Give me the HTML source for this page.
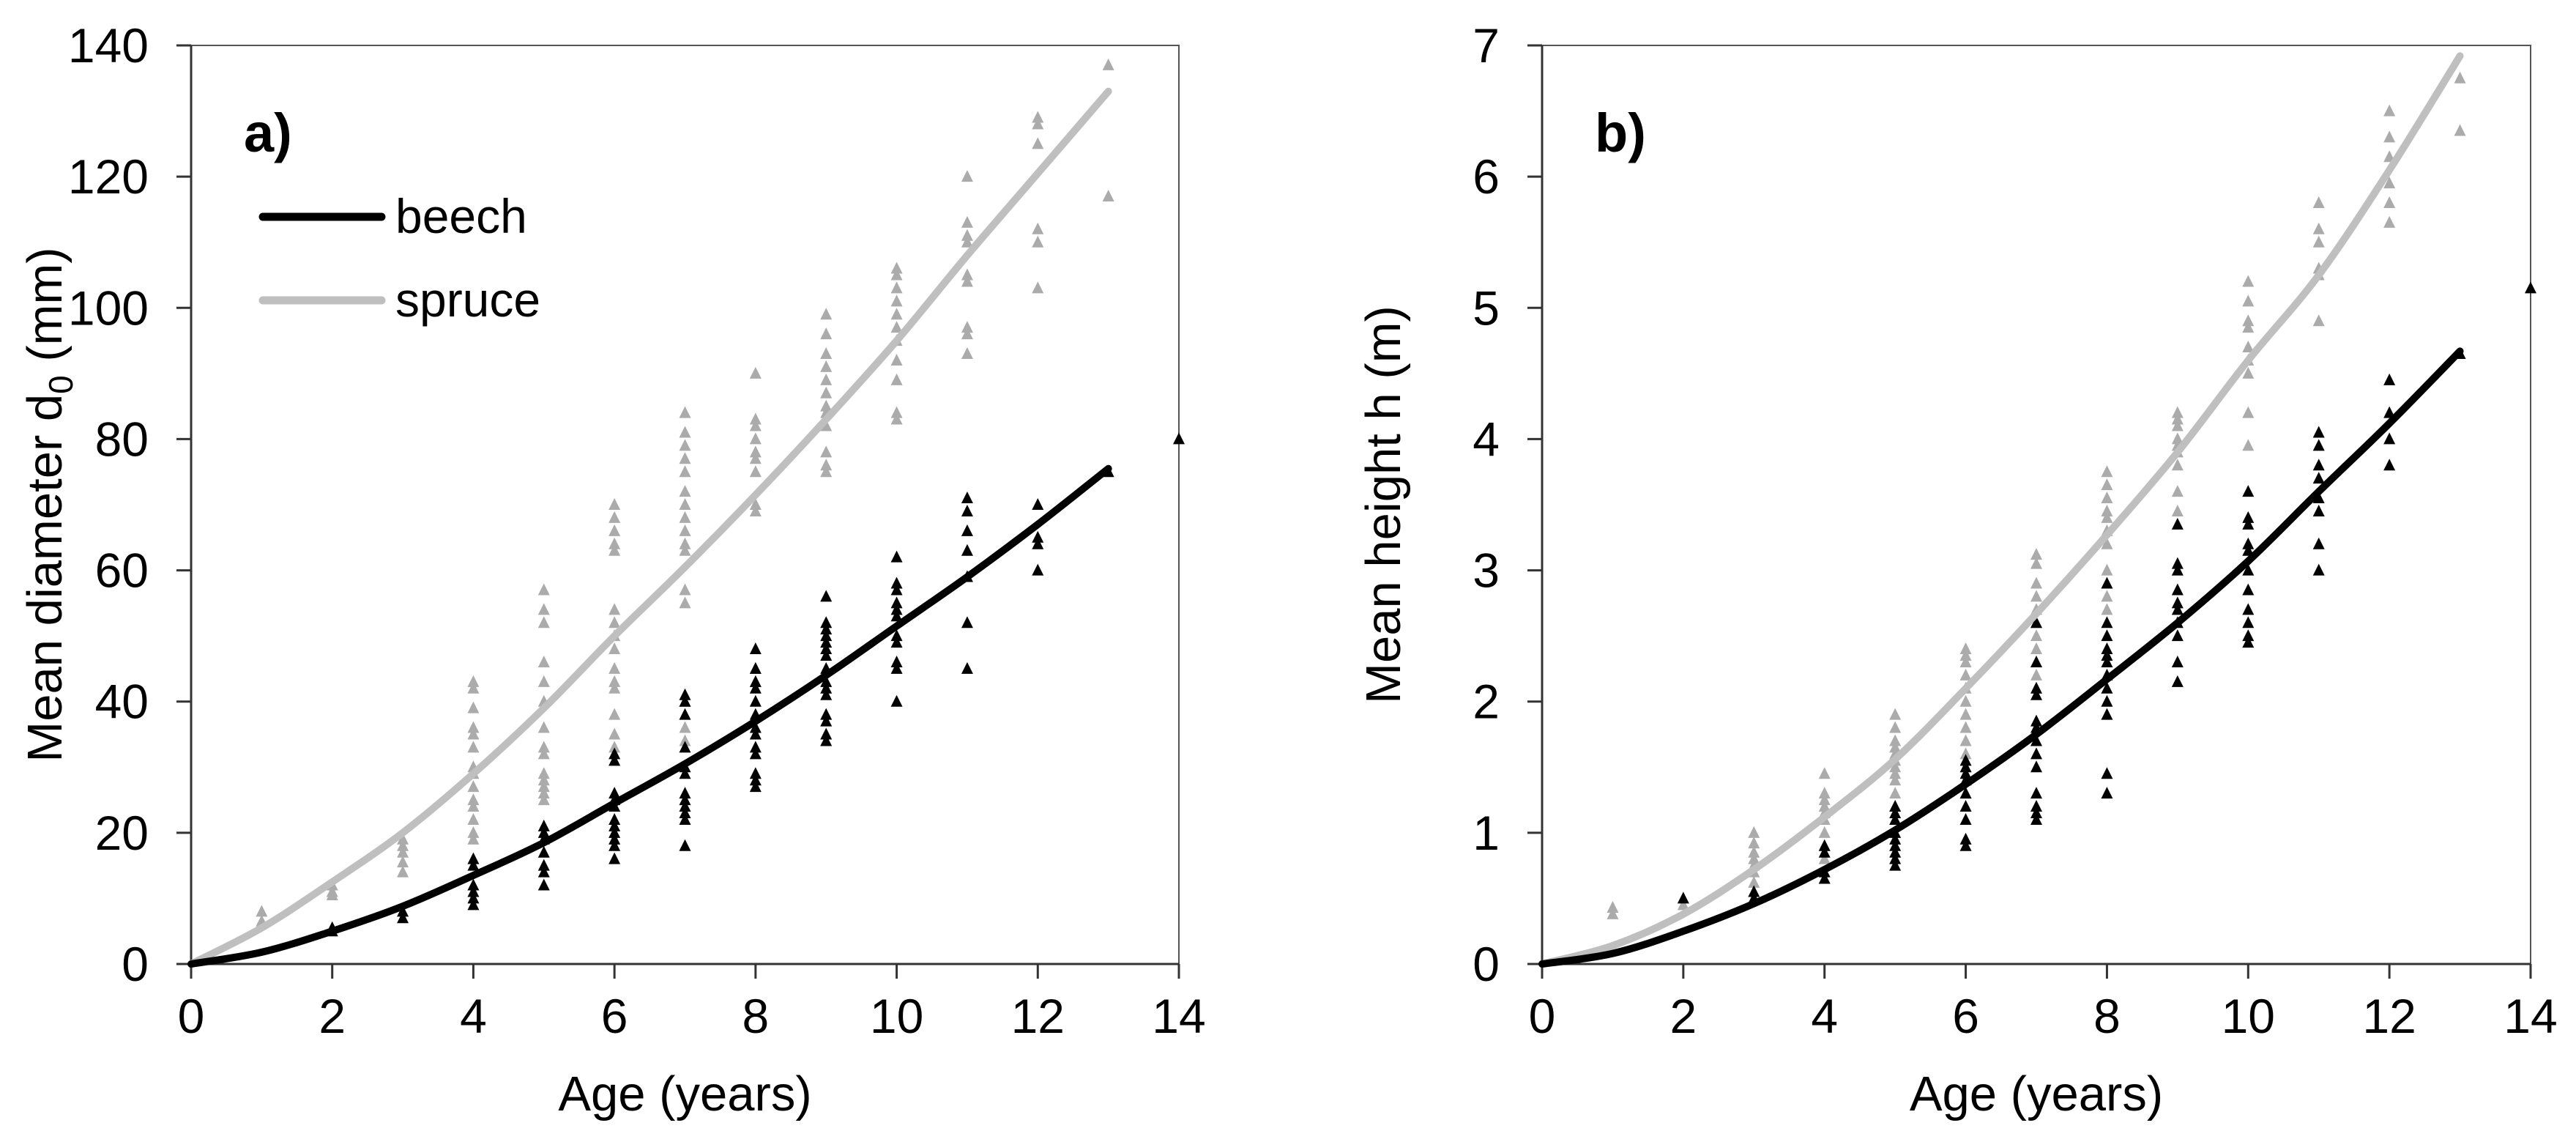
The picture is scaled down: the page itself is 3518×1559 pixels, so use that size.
<!DOCTYPE html>
<html><head><meta charset="utf-8"><style>
html,body{margin:0;padding:0;background:#fff}
svg{display:block}
text{font-family:"Liberation Sans",Arial,sans-serif;fill:#000}
</style></head><body>
<svg id="chart" width="3518" height="1559" viewBox="0 0 3518 1559" xmlns="http://www.w3.org/2000/svg"></svg>
<script>
const ages = [0,1,2,3,4,5,6,7,8,9,10,11,12,13];
const xTicks = [0,2,4,6,8,10,12,14];
const yTicksA = [0,20,40,60,80,100,120,140];
const yTicksB = [0,1,2,3,4,5,6,7];
const beechCurveA = [0,1.8,5,8.8,13.5,18.5,24.5,30.5,37,44,51.5,59,67,75.5];
const spruceCurveA = [0,5.5,12.5,20,29,39,50,60.5,71.5,83,95,108,120.5,133];
const beechCurveB = [0,0.08,0.25,0.46,0.72,1.02,1.37,1.75,2.17,2.6,3.07,3.6,4.12,4.67];
const spruceCurveB = [0,0.14,0.38,0.72,1.12,1.56,2.1,2.67,3.27,3.9,4.6,5.25,6.05,6.92];
const spruceObsA = [[1,[8,6.5]],[2,[12,10.5,11]],[3,[19,18,17,15.5,14]],[4,[43,42,39,36,35,33,30,29,27,25,24,22,20,19]],[5,[57,54,52,46,43,40,36,33,32,29,28,27,26,25]],[6,[70,68,66,64,63,54,52,50,48,45,43,42,38,35,33,31]],[7,[84,81,79,77,75,72,70,68,66,64,63,57,55,40,36,34]],[8,[90,83,82,80,78,77,75,70,69,45,43]],[9,[99,96,93,91,89,87,85,84,82,78,76,75]],[10,[106,105,103,101,99,97,95,92,89,84,83]],[11,[120,113,111,110,105,104,97,96,93]],[12,[129,128,125,112,110,103]],[13,[137,117]]];
const beechObsA = [[2,[5.5,5]],[3,[8,7]],[4,[16,15,12,11,10,9]],[5,[21,20,19,17,15,14,12]],[6,[32,31,26,25,24,22,21,20,19,18,16]],[7,[41,40,38,33,30,29,26,25,24,23,22,18]],[8,[48,45,43,42,40,38,36,35,33,32,29,28,27]],[9,[56,52,51,50,49,48,47,45,43,42,41,38,37,35,34]],[10,[62,58,57,55,54,53,50,49,46,45,40]],[11,[71,69,66,63,59,52,45]],[12,[70,65,64,60]],[13,[75]],[14,[80]]];
const spruceObsB = [[1,[0.43,0.38]],[2,[0.45]],[3,[1.0,0.92,0.85,0.8,0.75,0.7,0.62]],[4,[1.45,1.3,1.25,1.2,1.15,1.1,1.0,0.9,0.8]],[5,[1.9,1.8,1.7,1.65,1.6,1.55,1.5,1.45,1.4,1.3,1.2,1.1]],[6,[2.4,2.35,2.3,2.2,2.1,2.0,1.9,1.8,1.7,1.6,1.5,1.3]],[7,[3.12,3.05,2.9,2.8,2.7,2.6,2.5,2.4,2.3,2.2]],[8,[3.75,3.65,3.55,3.45,3.4,3.3,3.2,3.0,2.9,2.8,2.7]],[9,[4.2,4.15,4.1,4.0,3.95,3.9,3.8,3.6,3.45]],[10,[5.2,5.05,4.9,4.85,4.7,4.6,4.5,4.2,3.95]],[11,[5.8,5.6,5.5,5.3,5.25,4.9]],[12,[6.5,6.3,6.15,5.95,5.8,5.65]],[13,[6.75,6.35]]];
const beechObsB = [[2,[0.5]],[3,[0.5,0.55]],[4,[0.9,0.85,0.7,0.65]],[5,[1.2,1.15,1.1,1.0,0.95,0.9,0.85,0.8,0.75]],[6,[1.55,1.5,1.45,1.4,1.3,1.2,1.1,0.95,0.9]],[7,[2.6,2.3,2.1,2.05,1.85,1.8,1.7,1.6,1.5,1.3,1.2,1.15,1.1]],[8,[2.9,2.6,2.5,2.4,2.35,2.3,2.2,2.1,2.0,1.9,1.45,1.3]],[9,[3.35,3.05,3.0,2.85,2.75,2.7,2.6,2.5,2.3,2.15]],[10,[3.6,3.4,3.35,3.2,3.15,3.0,2.85,2.7,2.6,2.5,2.45]],[11,[4.05,3.95,3.8,3.7,3.55,3.45,3.2,3.0]],[12,[4.45,4.2,4.0,3.8]],[13,[4.65]],[14,[5.15]]];

const NS = "http://www.w3.org/2000/svg";
const svg = document.getElementById('chart');
function mk(tag, attrs, parent){const e=document.createElementNS(NS,tag);for(const k in attrs)e.setAttribute(k,attrs[k]);(parent||svg).appendChild(e);return e;}

function panel(opt){
  const g = mk('g',{});
  
  
  const X = v => opt.x0 + (opt.x1-opt.x0)*v/14;
  const Y = v => opt.y0 - (opt.y0-opt.y1)*v/opt.ymax;
  const fr = mk('path',{d:`M${X(0)} ${Y(opt.ymax)} H${X(14)} V${Y(0)}`,fill:'none',stroke:'#555','stroke-width':2},g);
  
  
  const ax = mk('path',{d:`M${X(0)} ${Y(opt.ymax)} V${Y(0)} H${X(14)}`,fill:'none',stroke:'#333','stroke-width':3},g);
  
  
  xTicks.forEach(t=>{
    mk('line',{x1:X(t),x2:X(t),y1:Y(0),y2:Y(0)+20,stroke:'#333','stroke-width':3},g);
    const tx = mk('text',{x:X(t),y:Y(0)+94,'text-anchor':'middle','font-size':66},g);
    tx.textContent=t;
    
    
  });
  opt.yTicks.forEach(t=>{
    mk('line',{x1:X(0)-20,x2:X(0),y1:Y(t),y2:Y(t),stroke:'#333','stroke-width':3},g);
    const tx = mk('text',{x:X(0)-58,y:Y(t)+23,'text-anchor':'end','font-size':66},g);
    tx.textContent=t;
    
    
  });
  const xt = mk('text',{x:(X(0)+X(14))/2,y:1516,'text-anchor':'middle','font-size':67},g);
  xt.textContent='Age (years)';
  
  
  const yt = mk('text',{x:0,y:0,'text-anchor':'middle','font-size':67,transform:`translate(${opt.ytx},${(Y(0)+Y(opt.ymax))/2}) rotate(-90)`},g);
  yt.innerHTML = opt.ytitle;
  
  
  const lb = mk('text',{x:X(0)+72,y:Y(opt.ymax)+145,'font-size':74,'font-weight':'bold'},g);
  lb.textContent=opt.label;
  
  
  function tri(t,v,col){
    const x=X(t),y=Y(v);
    return mk('path',{d:`M${x} ${y-9} L${x+8} ${y+7} L${x-8} ${y+7}Z`,fill:col},g);
  }
  opt.spruceObs.forEach(([t,vs])=>vs.forEach(v=>{const p=tri(t,v,'#ababab');}));
  opt.beechObs.forEach(([t,vs])=>vs.forEach(v=>{const p=tri(t,v,'#000');}));
  function curve(vals,col,name){
    let d='';
    for(let i=0;i<ages.length;i++){
      const x=X(ages[i]),y=Y(vals[i]);
      if(i===0){d+=`M${x} ${y}`;continue;}
      const p0=i>1?[X(ages[i-2]),Y(vals[i-2])]:[X(ages[i-1]),Y(vals[i-1])];
      const p1=[X(ages[i-1]),Y(vals[i-1])];
      const p3=i<ages.length-1?[X(ages[i+1]),Y(vals[i+1])]:[x,y];
      const c1=[p1[0]+(x-p0[0])/6,p1[1]+(y-p0[1])/6];
      const c2=[x-(p3[0]-p1[0])/6,y-(p3[1]-p1[1])/6];
      d+=` C${c1[0]} ${c1[1]} ${c2[0]} ${c2[1]} ${x} ${y}`;
    }
    const p=mk('path',{d,fill:'none',stroke:col,'stroke-width':10,'stroke-linecap':'round'},g);
    
    
  }
  curve(opt.spruceCurve,'#bfbfbf','spruce-fit-line');
  curve(opt.beechCurve,'#000','beech-fit-line');
  if(opt.legend){
    const lg=mk('g',{},g);
    
    
    [['beech','#000',296],['spruce','#bfbfbf',410]].forEach(([n,c,y])=>{
      const e=mk('g',{},lg);
      
      
      mk('line',{x1:359,x2:521,y1:y,y2:y,stroke:c,'stroke-width':11,'stroke-linecap':'round'},e);
      const t=mk('text',{x:540,y:y+22,'font-size':66},e);
      t.textContent=n;
    });
  }
}
panel({name:'panel-a-diameter',x0:261,x1:1610,y0:1316,y1:62,ymax:140,yTicks:yTicksA,ytitle:'Mean diameter d<tspan font-size="46" dy="15">0</tspan><tspan dy="-15"> (mm)</tspan>',ytx:84,label:'a)',spruceObs:spruceObsA,beechObs:beechObsA,spruceCurve:spruceCurveA,beechCurve:beechCurveA,legend:true});
panel({name:'panel-b-height',x0:2106,x1:3456,y0:1316,y1:62,ymax:7,yTicks:yTicksB,ytitle:'Mean height h (m)',ytx:1912,label:'b)',spruceObs:spruceObsB,beechObs:beechObsB,spruceCurve:spruceCurveB,beechCurve:beechCurveB,legend:false});
</script>
</body></html>
